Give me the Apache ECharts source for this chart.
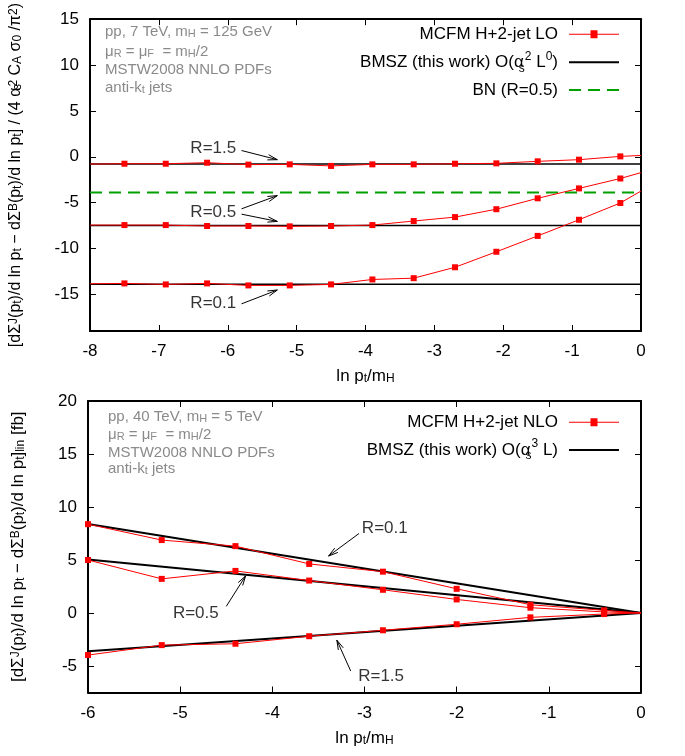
<!DOCTYPE html>
<html><head><meta charset="utf-8">
<script src="https://cdn.jsdelivr.net/npm/echarts@6/dist/echarts.min.js"></script>
<style>html,body{margin:0;padding:0;background:#fff}#c{width:685px;height:756px}</style>
</head><body><div id="c"></div>
<script>
// ---------- top panel (pp, 7 TeV, LO) ----------
const topX   = [-8, -7.5, -6.9, -6.3, -5.7, -5.1, -4.5, -3.9, -3.3, -2.7, -2.1, -1.5, -0.9, -0.3, 0];
const topR15 = [-0.8, -0.76, -0.76, -0.65, -0.86, -0.83, -1.0, -0.83, -0.83, -0.76, -0.72, -0.5, -0.32, 0.04, 0.14];
const topR05 = [-7.45, -7.45, -7.45, -7.55, -7.55, -7.59, -7.55, -7.45, -7.01, -6.58, -5.72, -4.53, -3.45, -2.37, -1.73];
const topR01 = [-13.85, -13.81, -13.92, -13.81, -14.03, -14.03, -13.92, -13.38, -13.24, -12.05, -10.36, -8.63, -6.87, -5.04, -3.74];
const topLineX = [-8, 0];
const topBmszLevels = [-0.8, -7.5, -13.9];
const topBnLevel = -3.9;
const topYTicks = [-15, -10, -5, 0, 5, 10, 15];
const topLabels = [['R=1.5', -6.21, 0.94], ['R=0.5', -6.21, -6.04], ['R=0.1', -6.21, -15.97]];
const topArrows = [[-5.80, 0.68, -5.28, -0.32], [-5.80, -5.68, -5.28, -4.24], [-5.80, -6.26, -5.28, -7.05], [-5.80, -16.04, -5.28, -14.53]];

// ---------- bottom panel (pp, 40 TeV, NLO) ----------
const botX   = [-6, -5.2, -4.4, -3.6, -2.8, -2.0, -1.2, -0.4, 0];
const botR01 = [8.38, 6.88, 6.31, 4.63, 3.9, 2.28, 0.78, 0.25, 0];
const botR05 = [5.0, 3.22, 3.97, 3.06, 2.19, 1.28, 0.5, 0.1, 0];
const botR15 = [-3.97, -3.03, -2.9, -2.19, -1.63, -1.06, -0.41, -0.1, 0];
const botLineX = [-6, 0];
const botBmszStart = [8.4, 5.05, -3.6];
const botBmszEnd = [0, 0, 0];
const botYTicks = [-5, 0, 5, 10, 15, 20];
const botLabels = [['R=0.1', -2.78, 7.97], ['R=0.5', -4.83, 0], ['R=1.5', -2.82, -6.0]];
const botArrows = [[-3.06, 7.5, -3.39, 5.375], [-4.50, 0.625, -4.29, 3.5], [-3.15, -5.47, -3.30, -2.56]];

const FONT = 'Liberation Sans, Arial, sans-serif';
const RED = '#ff0000', GREEN = '#00a000';
function mkRich(base) {
  return {
    n: {fontSize: base, lineHeight: 24, fontFamily: FONT, color: '#000', verticalAlign: 'middle'},
    p: {fontSize: 12, lineHeight: 12, fontFamily: FONT, color: '#000', verticalAlign: 'top'},
    s: {fontSize: 12, lineHeight: 12, fontFamily: FONT, color: '#000', verticalAlign: 'bottom'},
    s0: {fontSize: 12, lineHeight: 12, fontFamily: FONT, color: '#000', verticalAlign: 'bottom', width: 1}
  };
}
const rich = mkRich(17);
const grayRich = {
  g: {fontSize: 15, lineHeight: 20, fontFamily: FONT, color: '#8a8a8a', verticalAlign: 'middle'},
  gs: {fontSize: 11, lineHeight: 11, fontFamily: FONT, color: '#8a8a8a', verticalAlign: 'bottom'}
};

const chart = echarts.init(document.getElementById('c'), null, {renderer: 'canvas'});

function redSeries(name, xs, ys, xi, yi) {
  return {
    type: 'line', name: name, xAxisIndex: xi, yAxisIndex: yi,
    data: xs.map((x, i) => (i === 0 && x === -8) || x === 0 ? {value: [x, ys[i]], symbol: 'none'} : [x, ys[i]]),
    symbol: 'rect', symbolSize: 6, showAllSymbol: true, color: RED,
    lineStyle: {width: 1, color: RED}, itemStyle: {color: RED}, z: 4, clip: true
  };
}
function flatSeries(name, xs, v, xi, yi, color, width, type) {
  return {
    type: 'line', name: name, xAxisIndex: xi, yAxisIndex: yi,
    data: xs.map(x => [x, v]), symbol: 'none', color: color,
    lineStyle: {width: width, color: color, type: type || 'solid'}, z: 3
  };
}
function arrowRender(params, api) {
  const p1 = api.coord([api.value(0), api.value(1)]);
  const p2 = api.coord([api.value(2), api.value(3)]);
  const ang = Math.atan2(p2[1] - p1[1], p2[0] - p1[0]);
  const L = 10, a = 0.27;
  const h1 = [p2[0] - L * Math.cos(ang - a), p2[1] - L * Math.sin(ang - a)];
  const h2 = [p2[0] - L * Math.cos(ang + a), p2[1] - L * Math.sin(ang + a)];
  return {type: 'group', children: [
    {type: 'line', shape: {x1: p1[0], y1: p1[1], x2: p2[0], y2: p2[1]}, style: {stroke: '#000', lineWidth: 1}},
    {type: 'polyline', shape: {points: [h1, p2, h2]}, style: {stroke: '#000', lineWidth: 1, fill: null}}
  ]};
}
function arrowSeries(arr, xi, yi) {
  return {type: 'custom', xAxisIndex: xi, yAxisIndex: yi, renderItem: arrowRender,
    data: arr, encode: {x: [0, 2], y: [1, 3]}, z: 6, silent: true, clip: false};
}
function labelSeries(arr, xi, yi) {
  return {type: 'scatter', xAxisIndex: xi, yAxisIndex: yi, symbolSize: 2,
    itemStyle: {color: 'rgba(255,255,255,0)'}, silent: true, z: 6,
    data: arr.map(d => ({name: d[0], value: [d[1], d[2]]})),
    label: {show: true, position: 'inside', formatter: '{b}', fontSize: 17, fontFamily: FONT, color: '#000'}};
}

const axisLine = {show: true, onZero: false, lineStyle: {color: '#000', width: 2}};
const tick = {show: true, inside: true, length: 6, lineStyle: {color: '#000', width: 1}};
const lab = {fontSize: 17, fontFamily: FONT, color: '#000'};

function xMain(grid, min, max) {
  return {type: 'value', gridIndex: grid, min: min, max: max, interval: 1, position: 'bottom',
    axisLine: axisLine, axisTick: tick, splitLine: {show: false},
    axisLabel: Object.assign({margin: 12}, lab),
    name: 'ln p{s|t}/m{s|H}', nameLocation: 'middle', nameGap: 37,
    nameTextStyle: {fontSize: 17, fontFamily: FONT, color: '#000', rich: rich}};
}
function xMirror(grid, min, max) {
  return {type: 'value', gridIndex: grid, min: min, max: max, interval: 1, position: 'top',
    axisLine: axisLine, axisTick: tick, splitLine: {show: false}, axisLabel: {show: false}};
}
function yMain(grid, min, max, ticks, name, gap, fs) {
  return {type: 'value', gridIndex: grid, min: min, max: max, position: 'left',
    axisLine: axisLine, axisTick: Object.assign({customValues: ticks}, tick), splitLine: {show: false},
    axisLabel: Object.assign({margin: 11, customValues: ticks}, lab),
    name: name, nameLocation: 'middle', nameGap: gap, nameRotate: 90,
    nameTextStyle: {fontSize: fs, fontFamily: FONT, color: '#000', rich: mkRich(fs)}};
}
function yMirror(grid, min, max, ticks) {
  return {type: 'value', gridIndex: grid, min: min, max: max, position: 'right',
    axisLine: axisLine, axisTick: Object.assign({customValues: ticks}, tick), splitLine: {show: false},
    axisLabel: {show: false, customValues: ticks}};
}

function legend(name, icon, iw, ih, cy, fmt) {
  return {data: [{name: name, icon: icon}], right: 66, top: cy - 12, padding: 0, align: 'right',
    itemWidth: iw, itemHeight: ih, selectedMode: false,
    itemStyle: {borderWidth: 0},
    formatter: fmt ? (() => fmt) : undefined,
    textStyle: {fontSize: 17, fontFamily: FONT, color: '#000', lineHeight: 24, padding: [0, 6, 0, 0], rich: rich}};
}
const iconRed = 'path://M0,3.5h50v1h-50z M21.5,0h7v8h-7z';
const iconDash = 'path://M0,0h12v2h-12z M19,0h12v2h-12z M38,0h12v2h-12z';

function infoText(lines, x, ys) {
  return lines.map((t, i) => ({type: 'text', x: x, y: ys[i],
    style: {text: t, rich: grayRich, fontSize: 15, fontFamily: FONT, fill: '#8a8a8a', verticalAlign: 'middle', align: 'left'}}));
}

const topName = '[dΣ{p|J}(p{s|t})/d ln p{s|t} − dΣ{p|B}(p{s|t})/d ln p{s|t}] / (4 α{s0|s}{p|2} C{s|A} σ{s|0} /π{p|2})';
const botName = '[dΣ{p|J}(p{s|t})/d ln p{s|t} − dΣ{p|B}(p{s|t})/d ln p{s|t}]{s|lin} [fb]';

const option = {
  animation: false,
  backgroundColor: '#fff',
  grid: [
    {left: 88, right: 44, top: 15.5, height: 315.5},
    {left: 88, right: 44, top: 401, height: 291.5}
  ],
  xAxis: [xMain(0, -8, 0), xMirror(0, -8, 0), xMain(1, -6, 0), xMirror(1, -6, 0)],
  yAxis: [yMain(0, -19, 15, topYTicks, topName, 66, 16), yMirror(0, -19, 15, topYTicks),
          yMain(1, -7.5, 20, botYTicks, botName, 61, 17), yMirror(1, -7.5, 20, botYTicks)],
  legend: [
    legend('MCFM H+2-jet LO', iconRed, 50, 8, 34.3),
    legend('BMSZ LO', 'rect', 50, 2, 62.3, '{n|BMSZ (this work) O(α}{s0|s}{p|2}{n| L}{p|0}{n|)}'),
    legend('BN (R=0.5)', iconDash, 50, 2, 90),
    legend('MCFM H+2-jet NLO', iconRed, 50, 8, 422.3),
    legend('BMSZ NLO', 'rect', 50, 2, 450, '{n|BMSZ (this work) O(α}{s0|s}{p|3}{n| L)}')
  ],
  graphic: infoText(['pp, 7 TeV, m{gs|H} = 125 GeV', 'μ{gs|R} = μ{gs|F}  = m{gs|H}/2', 'MSTW2008 NNLO PDFs', 'anti-k{gs|t} jets'], 105, [32, 51.7, 70, 88.3])
    .concat(infoText(['pp, 40 TeV, m{gs|H} = 5 TeV', 'μ{gs|R} = μ{gs|F}  = m{gs|H}/2', 'MSTW2008 NNLO PDFs', 'anti-k{gs|t} jets'], 108, [417, 435, 453, 469])),
  series: [
    redSeries('MCFM H+2-jet LO', topX, topR15, 0, 0),
    redSeries('MCFM H+2-jet LO', topX, topR05, 0, 0),
    redSeries('MCFM H+2-jet LO', topX, topR01, 0, 0),
    flatSeries('BMSZ LO', topLineX, topBmszLevels[0], 0, 0, '#000', 1.5),
    flatSeries('BMSZ LO', topLineX, topBmszLevels[1], 0, 0, '#000', 1.5),
    flatSeries('BMSZ LO', topLineX, topBmszLevels[2], 0, 0, '#000', 1.5),
    flatSeries('BN (R=0.5)', topLineX, topBnLevel, 0, 0, GREEN, 2, [12, 7]),
    arrowSeries(topArrows, 0, 0),
    labelSeries(topLabels, 0, 0),
    redSeries('MCFM H+2-jet NLO', botX, botR01, 2, 2),
    redSeries('MCFM H+2-jet NLO', botX, botR05, 2, 2),
    redSeries('MCFM H+2-jet NLO', botX, botR15, 2, 2)
  ].concat(botBmszStart.map((v, i) => ({
    type: 'line', name: 'BMSZ NLO', xAxisIndex: 2, yAxisIndex: 2,
    data: [[botLineX[0], v], [botLineX[1], botBmszEnd[i]]], symbol: 'none', color: '#000',
    lineStyle: {width: 2, color: '#000'}, z: 3
  }))).concat([
    arrowSeries(botArrows, 2, 2),
    labelSeries(botLabels, 2, 2)
  ])
};
chart.setOption(option);
</script>
</body></html>
